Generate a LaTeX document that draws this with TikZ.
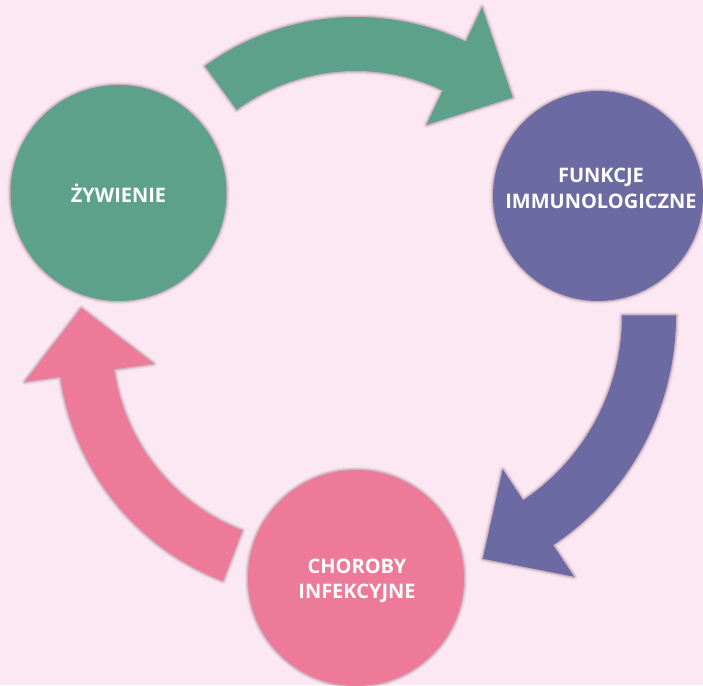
\documentclass[tikz,border=0pt]{standalone}
\usepackage{fontspec}
\setmainfont{Open Sans}
\definecolor{bgpink}{RGB}{252,232,243}
\definecolor{cgreen}{RGB}{93,161,138}
\definecolor{cpurple}{RGB}{107,106,163}
\definecolor{cpink}{RGB}{238,122,154}
\definecolor{cshade}{RGB}{105,60,80}

\begin{document}
\begin{tikzpicture}[x=1pt,y=1pt]
\tikzstyle{soft}=[preaction={draw=cshade,fill=none,line join=round,line width=7pt,draw opacity=0.06},
  preaction={draw=cshade,fill=none,line join=round,line width=4.5pt,draw opacity=0.1},
  preaction={draw=cshade,fill=none,line join=round,line width=2.5pt,draw opacity=0.18}]
\tikzstyle{stagetext}=[text=white,align=center,font=\bfseries\fontsize{20}{25.5}\selectfont]
\tikzstyle{stage}=[circle,inner sep=0pt,soft,stagetext]

\fill[bgpink] (0,0) rectangle (703,685);
\useasboundingbox (0,0) rectangle (703,685);

% circles
\node[stage,fill=cgreen,minimum size=216pt] (nutr) at (118.5,492) {ŻYWIENIE};
\node[stage,fill=cpurple,minimum size=210pt] (immu) at (598,489) {};
\node[stage,fill=cpink,minimum size=216pt] (infe) at (356,107) {};
\node[stagetext] (immutxt) at (601,496.5) {FUNKCJE\\IMMUNOLOGICZNE};
\node[stagetext] (infetxt) at (357,104) {CHOROBY\\INFEKCYJNE};

% arc centres of the three arrows
\coordinate (gc) at (356,411);
\coordinate (pc) at (400,369.5);
\coordinate (kc) at (315,344);

% nutrition -> immune functions
\fill[cgreen,soft,shift={(gc)}] (126:257pt) arc[start angle=126,end angle=64.7,radius=257pt]
  -- (64.7:295pt) -- (48.4:236pt) -- (64.7:165pt) -- (64.7:203pt)
  arc[start angle=64.7,end angle=126,radius=203pt] -- cycle;
% immune functions -> infections
\fill[cpurple,soft,shift={(pc)}] (0:276pt) arc[start angle=0,end angle=-56.3,radius=276pt]
  -- (-56.3:314pt) -- (-71.2:257pt) -- (-56.3:185pt) -- (-56.3:222pt)
  arc[start angle=-56.3,end angle=0,radius=222pt] -- cycle;
% infections -> nutrition
\fill[cpink,soft,shift={(kc)}] (249:257pt) arc[start angle=249,end angle=188,radius=257pt]
  -- (188:293pt) -- (172:236pt) -- (188:163pt) -- (188:203pt)
  arc[start angle=188,end angle=249,radius=203pt] -- cycle;
\end{tikzpicture}
\end{document}
